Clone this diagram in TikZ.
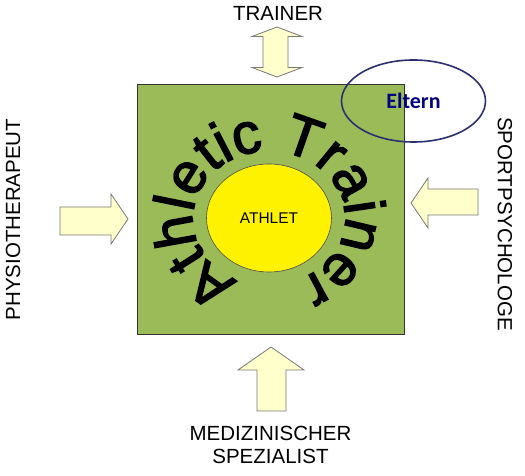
\documentclass[tikz,border=0pt]{standalone}
\usepackage{fontspec}
\setmainfont{Liberation Sans}
\newfontfamily\elternfont{Carlito}
\newfontfamily\archfont[FakeBold=2.5]{Liberation Sans}
\usetikzlibrary{decorations.text,shapes.geometric}
\definecolor{boxgreen}{RGB}{155,187,89}
\definecolor{arrowfill}{RGB}{255,255,204}
\definecolor{arrowline}{RGB}{120,120,120}
\definecolor{elternblue}{RGB}{0,0,128}
\definecolor{elternline}{RGB}{45,48,110}
\tikzset{
  blockarrow/.style={draw=arrowline, fill=arrowfill, line width=0.8pt, line join=miter},
  rolelabel/.style={font=\fontsize{20.5}{23}\selectfont, align=center, inner sep=0pt}
}

\begin{document}
\begin{tikzpicture}
    [x=1pt, y=1pt]
    \useasboundingbox[fill=white] (0,0) rectangle (525,476);
    % Athletic Trainer box
    \node[draw=black!80, fill=boxgreen, line width=0.8pt, minimum width=267pt,
      minimum height=250pt, inner sep=0pt] (box) at (270.5,267) {};
    % athlete in the middle
    \node[ellipse, draw=black!70, fill=yellow, line width=0.6pt, minimum width=125pt,
      minimum height=108pt, inner sep=0pt, font=\fontsize{15.5}{18}\selectfont] (athlet) at (269,258) {ATHLET};
    % text round the athlete
    \path[decorate, decoration={text along path, text align=center,
      text={|\archfont\fontsize{57.5}{60}\selectfont|Athletic Trainer}}]
      (269,258) ++(260:76 and 67) arc[start angle=260, end angle=-80, x radius=76, y radius=67];
    % parents
    \node[ellipse, draw=elternline, line width=1.6pt, minimum width=144pt, minimum height=82pt,
      inner sep=0pt, text=elternblue, font=\elternfont\bfseries\fontsize{22}{24}\selectfont] (eltern) at (413.5,375) {Eltern};
    %labels
    \node[rolelabel] (trainer) at (278,463) {TRAINER};
    \node[rolelabel, rotate=90] (physio) at (13,256.5) {PHYSIOTHERAPEUT};
    \node[rolelabel, rotate=-90] (sport) at (505,252) {SPORTPSYCHOLOGE};
    \node[rolelabel] (medizin) at (270.5,31.5) {MEDIZINISCHER\\SPEZIALIST};
    %arrows
    \draw[blockarrow] (277,449)--(302,439.5)--(288,439.5)--(288,408.5)--(302,408.5)
      --(277,399)--(252,408.5)--(263,408.5)--(263,439.5)--(252,439.5)--cycle;
    \draw[blockarrow] (60,269)--(111,269)--(111,282)--(128,257)--(111,232)--(111,241)--(60,241)--cycle;
    \draw[blockarrow] (478,287)--(428,287)--(428,298)--(411,273)--(428,248)--(428,261)--(478,261)--cycle;
    \draw[blockarrow] (257,65)--(257,106)--(238,106)--(271,129)--(304,106)--(286,106)--(286,65)--cycle;
\end{tikzpicture}
\end{document}
